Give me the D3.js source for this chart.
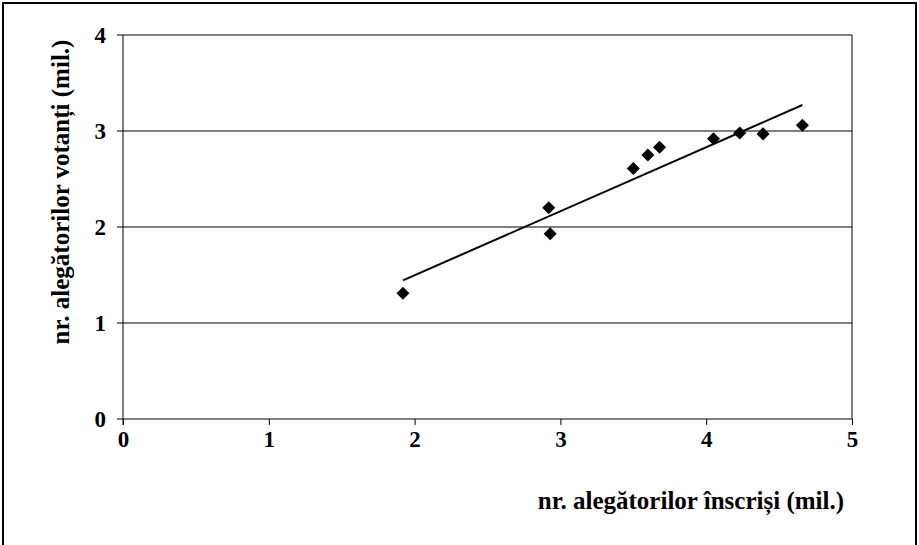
<!DOCTYPE html>
<html>
<head>
<meta charset="utf-8">
<script src="https://cdn.jsdelivr.net/npm/d3@7"></script>
<style>
  body { margin: 0; background: #fff; }
  text { font-family: "Liberation Serif", "Times New Roman", serif; font-weight: bold; fill: #000; }
</style>
</head>
<body>
<div id="container"></div>
<script>
// Hard Code values ---------- ---------- ----------
let canvasW = 919, canvasH = 545;
let xTitle = "nr. alegătorilor înscriși (mil.)", yTitle = "nr. alegătorilor votanți (mil.)";
let xTicks = [0, 1, 2, 3, 4, 5], yTicks = [0, 1, 2, 3, 4];
let inscrisi = [1.92, 2.92, 2.93, 3.50, 3.60, 3.68, 4.05, 4.23, 4.39, 4.66];
let votanti  = [1.31, 2.20, 1.93, 2.61, 2.75, 2.83, 2.92, 2.98, 2.97, 3.06];

let svg = d3.select("#container").append("svg").attr("width", canvasW).attr("height", canvasH);

// outer frame (bottom edge cut off like the original)
svg.append("rect").attr("x", 3).attr("y", 3).attr("width", canvasW - 6).attr("height", canvasH + 10)
    .attr("fill", "none").attr("stroke", "#000").attr("stroke-width", 2);

// Scales
let xScale = d3.scaleLinear().domain([0, 5]).range([123, 852]);
let yScale = d3.scaleLinear().domain([0, 4]).range([419, 35]);

// Gridlines (incl. tick stubs left of axis)
svg.append("g").selectAll("line").data(yTicks).join("line")
    .attr("x1", xScale(0) - 6).attr("x2", xScale(5))
    .attr("y1", d => yScale(d)).attr("y2", d => yScale(d))
    .attr("stroke", "#555").attr("stroke-width", 1.5);

// Y axis line + right border
svg.append("line").attr("x1", xScale(0)).attr("x2", xScale(0)).attr("y1", yScale(4)).attr("y2", yScale(0) + 6)
    .attr("stroke", "#000").attr("stroke-width", 1);
svg.append("line").attr("x1", xScale(5)).attr("x2", xScale(5)).attr("y1", yScale(4)).attr("y2", yScale(0))
    .attr("stroke", "#000").attr("stroke-width", 1);

// X axis
svg.append("g").attr("transform", "translate(0," + yScale(0) + ")")
    .call(d3.axisBottom(xScale).tickValues(xTicks).tickSize(6).tickPadding(6).tickFormat(d3.format("d")))
    .call(g => g.select(".domain").remove())
    .call(g => g.selectAll("line").attr("stroke", "#000"))
    .call(g => g.selectAll("text").style("font-size", "23px").style("font-family", "Liberation Serif").style("font-weight", "bold"));

// Y axis labels
svg.append("g").attr("transform", "translate(" + xScale(0) + ",0)")
    .call(d3.axisLeft(yScale).tickValues(yTicks).tickSize(0).tickPadding(17).tickFormat(d3.format("d")))
    .call(g => g.select(".domain").remove())
    .call(g => g.selectAll("text").style("font-size", "23px").style("font-family", "Liberation Serif").style("font-weight", "bold"));

// Trendline (least squares)
let mx = d3.mean(inscrisi), my = d3.mean(votanti);
let slope = d3.sum(inscrisi, (x, i) => (x - mx) * (votanti[i] - my)) / d3.sum(inscrisi, x => (x - mx) * (x - mx));
let icpt = my - slope * mx;
let xExt = d3.extent(inscrisi);
svg.append("path")
    .attr("d", d3.line().x(d => xScale(d)).y(d => yScale(icpt + slope * d))(xExt))
    .attr("stroke", "#000").attr("stroke-width", 2).attr("fill", "none");

// Markers
svg.append("g").selectAll("path").data(inscrisi).join("path")
    .attr("d", d3.symbol().type(d3.symbolSquare).size(85))
    .attr("transform", (d, i) => "translate(" + xScale(d) + "," + yScale(votanti[i]) + ") rotate(45)")
    .attr("fill", "#000");

// Axis titles
svg.append("text").attr("x", 844).attr("y", 509).attr("text-anchor", "end").attr("font-size", 25).text(xTitle);
svg.append("text").attr("transform", "translate(69,192) rotate(-90)").attr("text-anchor", "middle")
    .attr("font-size", 25).text(yTitle);
</script>
</body>
</html>
